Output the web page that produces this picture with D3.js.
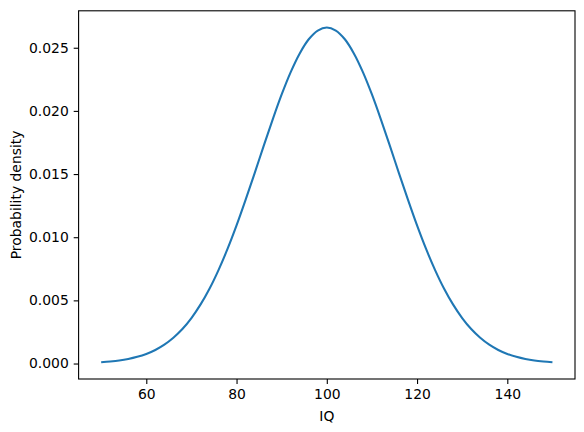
<!DOCTYPE html>
<html>
<head>
<meta charset="utf-8">
<script src="https://cdn.jsdelivr.net/npm/d3@7"></script>
<style>
  body { margin: 0; background: #fff; }
  svg text { font-family: "DejaVu Sans", sans-serif; }
</style>
</head>
<body>
<div id="chart"></div>
<script>
// values (IQ vs density)
const iq = [50, 52, 54, 56, 58, 60, 62, 64, 66, 68, 70, 72, 74, 76, 78, 80, 82, 84, 86, 88, 90, 92, 94, 96, 98, 100,
            102, 104, 106, 108, 110, 112, 114, 116, 118, 120, 122, 124, 126, 128, 130, 132, 134, 136, 138, 140, 142, 144, 146, 148, 150];
const density = [0.00010, 0.00016, 0.00024, 0.00036, 0.00053, 0.00076, 0.00107, 0.00149, 0.00204, 0.00273, 0.00360,
                 0.00466, 0.00592, 0.00740, 0.00907, 0.01093, 0.01295, 0.01506, 0.01721, 0.01931, 0.02130, 0.02307,
                 0.02455, 0.02567, 0.02636, 0.02660,
                 0.02636, 0.02567, 0.02455, 0.02307, 0.02130, 0.01931, 0.01721, 0.01506, 0.01295, 0.01093, 0.00907,
                 0.00740, 0.00592, 0.00466, 0.00360, 0.00273, 0.00204, 0.00149, 0.00107, 0.00076, 0.00053, 0.00036,
                 0.00024, 0.00016, 0.00010];
const x_ticks = [60, 80, 100, 120, 140];
const y_ticks = [0.000, 0.005, 0.010, 0.015, 0.020, 0.025];

const width = 584;
const height = 432;
const margin = {top: 10.8, right: 9, bottom: 53, left: 78.6};

const svg = d3.select('#chart')
    .append('svg')
    .attr('width', width)
    .attr('height', height);

// matplotlib-like 5% margins around data
const x_pad = (150 - 50) * 0.05;
const y_lo = d3.min(density), y_hi = d3.max(density);
const y_pad = (y_hi - y_lo) * 0.05;

const x_scale = d3.scaleLinear()
    .domain([50 - x_pad, 150 + x_pad])
    .range([margin.left, width - margin.right]);

const y_scale = d3.scaleLinear()
    .domain([y_lo - y_pad, y_hi + y_pad])
    .range([height - margin.bottom, margin.top]);

const points = iq.map((d, i) => [d, density[i]]);

const line = d3.line()
    .x(d => x_scale(d[0]))
    .y(d => y_scale(d[1]))
    .curve(d3.curveCatmullRom);

svg.append('path')
    .datum(points)
    .attr('d', line)
    .attr('fill', 'none')
    .attr('stroke', '#1f77b4')
    .attr('stroke-width', 2.08)
    .attr('stroke-linecap', 'butt');

// axes
const x_axis = svg.append('g')
    .attr('transform', `translate(0, ${height - margin.bottom})`)
    .call(d3.axisBottom(x_scale).tickValues(x_ticks).tickSize(4.9).tickPadding(4.9).tickSizeOuter(0));

const y_axis = svg.append('g')
    .attr('transform', `translate(${margin.left}, 0)`)
    .call(d3.axisLeft(y_scale).tickValues(y_ticks).tickFormat(d3.format('.3f')).tickSize(4.9).tickPadding(4.9).tickSizeOuter(0));

[x_axis, y_axis].forEach(g => {
    g.select('.domain').remove();
    g.selectAll('line').attr('stroke', '#000').attr('stroke-width', 1.1);
    g.selectAll('text').attr('font-size', 13.9).attr('fill', '#000')
        .attr('font-family', '"DejaVu Sans", sans-serif');
});

// frame
svg.append('rect')
    .attr('x', margin.left)
    .attr('y', margin.top)
    .attr('width', width - margin.left - margin.right)
    .attr('height', height - margin.top - margin.bottom)
    .attr('fill', 'none')
    .attr('stroke', '#000')
    .attr('stroke-width', 1.1);

// axis labels
svg.append('text')
    .attr('x', (margin.left + width - margin.right) / 2)
    .attr('y', 420.5)
    .attr('text-anchor', 'middle')
    .attr('font-size', 13.9)
    .text('IQ');

svg.append('g')
    .attr('transform', `translate(21, ${(margin.top + height - margin.bottom) / 2})`)
    .append('text')
    .attr('transform', 'rotate(-90)')
    .attr('text-anchor', 'middle')
    .attr('font-size', 13.9)
    .text('Probability density');
</script>
</body>
</html>
